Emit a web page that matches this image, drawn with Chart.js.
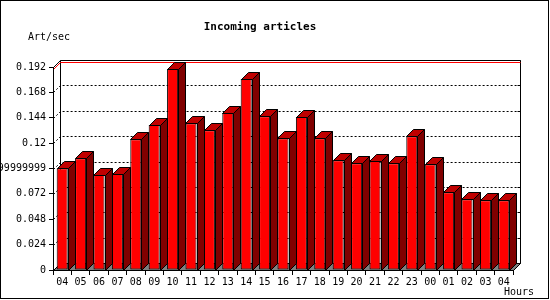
<!DOCTYPE html>
<html>
<head>
<meta charset="utf-8">
<script src="https://cdn.jsdelivr.net/npm/chart.js@4"></script>
<style>
  body { margin: 0; background: #fff; }
  canvas { display: block; }
</style>
</head>
<body>
<canvas id="chart" width="550" height="300"></canvas>
<script>
// data
const hours = ['04', '05', '06', '07', '08', '09', '10', '11', '12', '13', '14', '15', '16',
  '17', '18', '19', '20', '21', '22', '23', '00', '01', '02', '03', '04'];
const artPerSec = [0.0962, 0.1056, 0.0899, 0.0908, 0.1236, 0.1371, 0.1901, 0.1387, 0.1321,
  0.1485, 0.1806, 0.1454, 0.1245, 0.1447, 0.1245, 0.1037, 0.1009, 0.1034, 0.1009, 0.1265,
  0.1000, 0.0735, 0.0669, 0.0659, 0.0659];
const yTickValues = [0, 0.024, 0.048, 0.072, 0.096, 0.12, 0.144, 0.168, 0.192];
const yTickLabels = ['0', '0.024', '0.048', '0.072', '0.09599999999999999', '0.12', '0.144', '0.168', '0.192'];

const depth = 7;
const monoFont = 'DejaVu Sans Mono';

function line(ctx, pts) {
  ctx.beginPath();
  ctx.moveTo(pts[0][0], pts[0][1]);
  for (let i = 1; i < pts.length; i++) ctx.lineTo(pts[i][0], pts[i][1]);
  ctx.stroke();
}

// walls, floor, grid - the 3d box behind the bars
const box3d = {
  id: 'box3d',
  beforeDraw(chart) {
    const ctx = chart.ctx;
    const a = chart.chartArea;
    const ys = chart.scales.y;
    const L = Math.round(a.left) + 0.5, R = Math.round(a.right) + 0.5;
    const T = Math.round(a.top) + 0.5, B = Math.round(a.bottom) + 0.5;
    ctx.save();
    ctx.fillStyle = '#fff';
    ctx.fillRect(0, 0, chart.width, chart.height);
    ctx.strokeStyle = '#000';
    ctx.lineWidth = 1;
    ctx.strokeRect(0.5, 0.5, 548, 298);

    // floor
    ctx.fillStyle = '#808080';
    ctx.beginPath();
    ctx.moveTo(L, B);
    ctx.lineTo(L + depth, B - depth);
    ctx.lineTo(R + depth, B - depth);
    ctx.lineTo(R, B);
    ctx.closePath();
    ctx.fill();
    ctx.stroke();

    // back wall frame
    line(ctx, [[L, T], [L + depth, T - depth], [R + depth, T - depth], [R + depth, B - depth]]);
    line(ctx, [[L + depth, T - depth], [L + depth, B - depth]]);

    // dashed grid on side + back wall
    yTickValues.forEach((v, i) => {
      const py = Math.round(ys.getPixelForValue(v)) + 0.5;
      line(ctx, [[R + depth - 3, py - depth], [R + depth, py - depth]]);
      if (i === 0 || i === yTickValues.length - 1) return;
      ctx.setLineDash([2, 2]);
      line(ctx, [[L, py], [L + depth, py - depth], [R + depth, py - depth]]);
      ctx.setLineDash([]);
    });

    // max line in red
    const pm = Math.round(ys.getPixelForValue(Math.max(...artPerSec))) + 0.5;
    ctx.strokeStyle = '#ff0000';
    line(ctx, [[L, pm], [L + depth, pm - depth], [R + depth, pm - depth]]);
    ctx.restore();
  },
  // top and side faces of every bar
  afterDatasetsDraw(chart) {
    const ctx = chart.ctx;
    const meta = chart.getDatasetMeta(0);
    ctx.save();
    ctx.strokeStyle = '#000';
    ctx.lineWidth = 1;
    meta.data.forEach(bar => {
      const x0 = Math.round(bar.x - bar.width / 2) + 0.5;
      const x1 = Math.round(bar.x + bar.width / 2) + 0.5;
      const top = Math.round(bar.y) + 0.5;
      const base = Math.round(bar.base) + 0.5;
      ctx.fillStyle = '#c00000';
      ctx.beginPath();
      ctx.moveTo(x0, top);
      ctx.lineTo(x0 + depth, top - depth);
      ctx.lineTo(x1 + depth, top - depth);
      ctx.lineTo(x1, top);
      ctx.closePath();
      ctx.fill();
      ctx.stroke();
      ctx.fillStyle = '#800000';
      ctx.beginPath();
      ctx.moveTo(x1, top);
      ctx.lineTo(x1 + depth, top - depth);
      ctx.lineTo(x1 + depth, base - depth);
      ctx.lineTo(x1, base);
      ctx.closePath();
      ctx.fill();
      ctx.stroke();
    });
    ctx.restore();
  },
  afterDraw(chart) {
    const ctx = chart.ctx;
    ctx.save();
    ctx.fillStyle = '#000';
    ctx.textBaseline = 'middle';
    ctx.textAlign = 'center';
    ctx.font = 'bold 11px ' + monoFont;
    ctx.fillText('Incoming articles', 260, 27);
    ctx.font = '10px ' + monoFont;
    ctx.textAlign = 'left';
    ctx.fillText('Art/sec', 28, 37);
    ctx.fillText('Hours', 504, 292);
    ctx.restore();
  }
};

const chart = new Chart(document.getElementById('chart'), {
  type: 'bar',
  data: {
    labels: hours,
    datasets: [{
      label: 'Art/sec',
      data: artPerSec,
      backgroundColor: '#ff0000',
      borderColor: '#000',
      borderWidth: 1,
      borderSkipped: false,
      barPercentage: 0.6,
      categoryPercentage: 1
    }]
  },
  options: {
    responsive: false,
    animation: false,
    layout: { padding: { top: 67, right: 37, left: 0, bottom: 0 } },
    plugins: {
      legend: { display: false },
      title: { display: false },
      tooltip: { enabled: false }
    },
    scales: {
      x: {
        offset: true,
        afterFit: scale => { scale.height = 30; },
        grid: { display: true, drawOnChartArea: false, drawTicks: true, tickLength: 5, color: '#000', offset: true },
        border: { display: true, color: '#000', width: 1 },
        ticks: {
          autoSkip: false, maxRotation: 0, padding: 1, color: '#000',
          font: { family: monoFont, size: 10 }
        }
      },
      y: {
        min: 0,
        max: 0.192,
        afterFit: scale => { scale.width = 53; },
        afterBuildTicks: scale => { scale.ticks = yTickValues.map(v => ({ value: v })); },
        grid: { display: true, drawOnChartArea: false, drawTicks: true, tickLength: 4, color: '#000' },
        border: { display: true, color: '#000', width: 1 },
        ticks: {
          padding: 3, color: '#000',
          font: { family: monoFont, size: 10 },
          callback: (v, i) => yTickLabels[i]
        }
      }
    }
  },
  plugins: [box3d]
});
</script>
</body>
</html>
